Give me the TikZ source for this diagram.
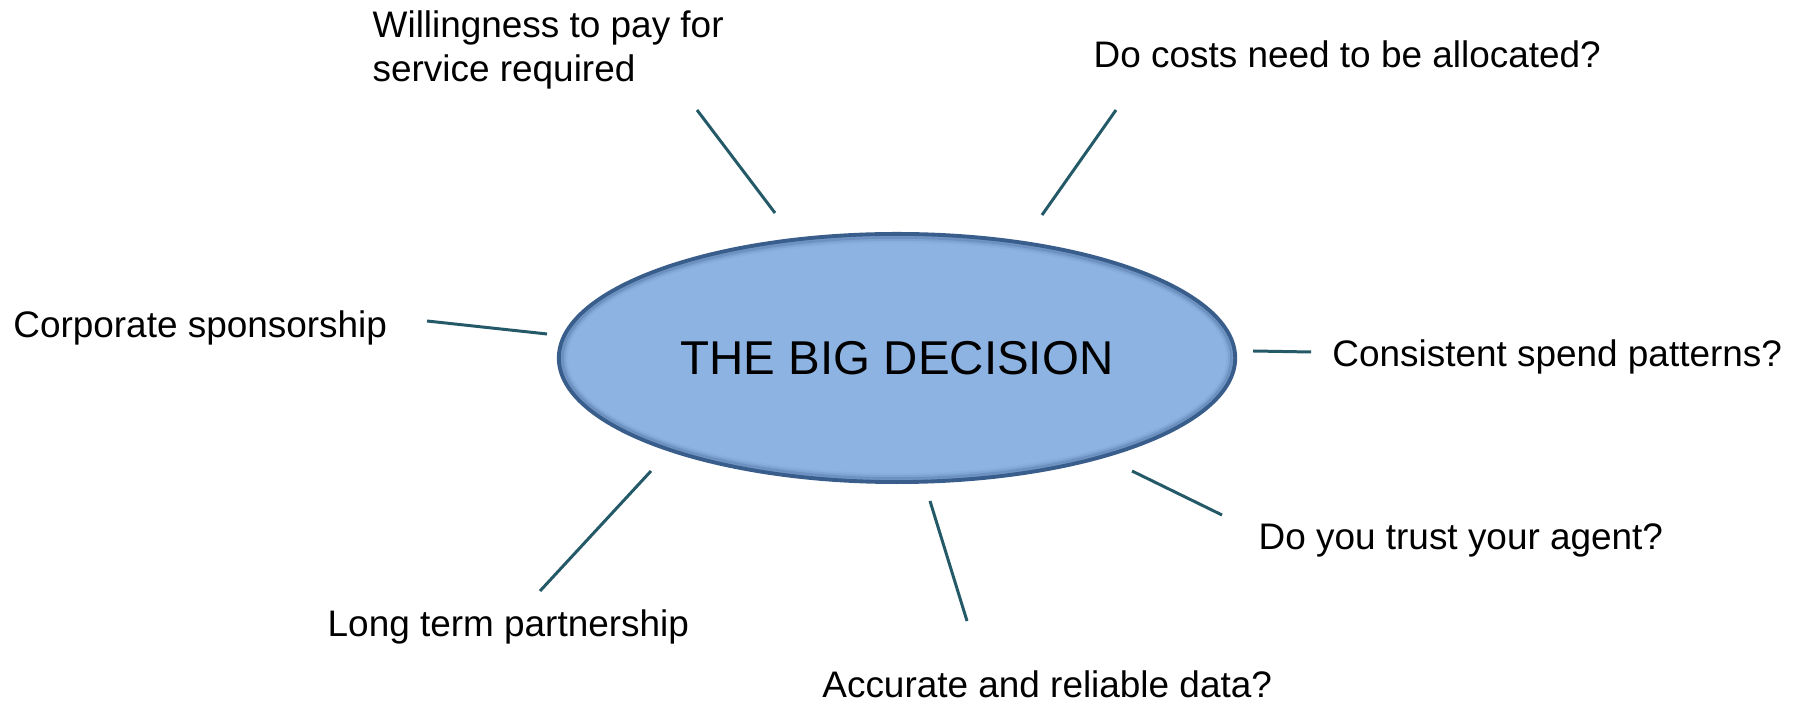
\documentclass[tikz,border=0pt]{standalone}
\usepackage{fontspec}
\setmainfont{Liberation Sans}
\usepackage{tikz}
\usetikzlibrary{shapes.geometric}

\definecolor{ellfill}{RGB}{141,179,226}
\definecolor{ellborder}{RGB}{58,94,140}
\definecolor{spokecol}{RGB}{36,89,104}

\tikzset{
	label/.style={inner sep=0pt,anchor=base west,font=\fontsize{10.5}{12.6}\selectfont},
	spoke/.style={draw=spokecol,line width=0.85pt},
	decision/.style={ellipse,fill=ellfill,draw=ellborder,line width=1.1pt,inner sep=0pt,
		minimum width=6.76cm,minimum height=2.48cm,font=\fontsize{13.5}{16}\selectfont}
}

\begin{document}
\begin{tikzpicture}[x=0.01cm,y=-0.01cm]
	\useasboundingbox (0,0) rectangle (1804,701);
	% centre
	\node[decision] (big) at (897,358) {THE BIG DECISION};
	% soft inner shadow of the ellipse
	\foreach \r/\o in {1/0.25,3/0.12,5/0.06}{
		\draw[ellborder,line width=1.6pt,opacity=\o] (big.center) ellipse ({337-\r} and {123-\r});
	}
	% labels
	\node[label,align=left] (pay) at (372,81.7) {Willingness to pay for\\service required};
	\node[label] (costs) at (1093,67.3) {Do costs need to be allocated?};
	\node[label] (corp) at (12.7,338) {Corporate sponsorship};
	\node[label] (spend) at (1331.7,366.7) {Consistent spend patterns?};
	\node[label] (trust) at (1258,550) {Do you trust your agent?};
	\node[label] (long) at (327,636.7) {Long term partnership};
	\node[label] (data) at (821.7,697) {Accurate and reliable data?};
	% spoke ends
	\coordinate (pay-out) at (697,110);    \coordinate (pay-in) at (775,213);
	\coordinate (costs-out) at (1116,110); \coordinate (costs-in) at (1042,215);
	\coordinate (corp-out) at (427,321);   \coordinate (corp-in) at (547,334);
	\coordinate (spend-out) at (1311,352); \coordinate (spend-in) at (1253,351);
	\coordinate (trust-out) at (1222,515); \coordinate (trust-in) at (1132,471);
	\coordinate (data-out) at (967,621);   \coordinate (data-in) at (930,501);
	\coordinate (long-out) at (540,591);   \coordinate (long-in) at (651,471);
	\foreach \n in {pay,costs,corp,spend,trust,data,long}{
		\draw[spoke] (\n-out) -- (\n-in);
	}
\end{tikzpicture}
\end{document}
